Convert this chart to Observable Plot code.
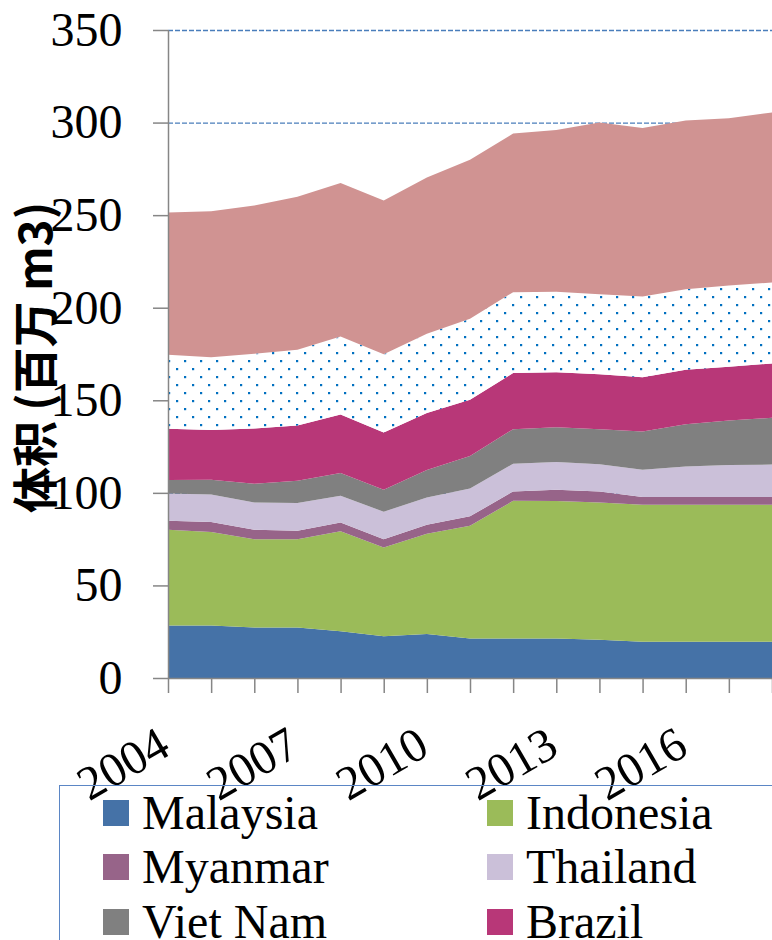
<!DOCTYPE html>
<html><head><meta charset="utf-8">
<script src="https://cdn.jsdelivr.net/npm/d3@7"></script>
<script src="https://cdn.jsdelivr.net/npm/@observablehq/plot@0.6"></script>
<style>
html,body{margin:0;padding:0;background:#fff;overflow:hidden}
#wrap{position:relative;width:772px;height:940px;overflow:hidden}
#legend{position:absolute;left:59px;top:785px;width:760px;height:220px;border:1.5px solid #5b86c5;box-sizing:border-box;display:grid;grid-template-columns:384px 384px;grid-auto-rows:54.3px;padding-left:43px;font-family:"Liberation Serif",serif;font-size:48px;color:#000}
.item{display:flex;align-items:center;white-space:nowrap;line-height:54.3px}
.sw{width:26px;height:26px;margin-right:13px;flex:none}
</style></head><body><div id="wrap"><div id="chart"></div><div id="legend"></div></div>
<script>
const years = [2004,2005,2006,2007,2008,2009,2010,2011,2012,2013,2014,2015,2016,2017,2018];
const xTickLabels = [2004,2007,2010,2013,2016];
const yTicks = [0,50,100,150,200,250,300,350];
const seriesNames = ["Malaysia","Indonesia","Myanmar","Thailand","Viet Nam","Brazil","Others","Rest"];
const seriesColors = ["#4572a7","#9bbb59","#976489","#cbc0d9","#808080","#b83778","url(#dots)","#d09392"];
const legendNames = ["Malaysia","Indonesia","Myanmar","Thailand","Viet Nam","Brazil"];
const yLabel = "体积 (百万 m3)";

const malaysia  = [28.4,28.4,27.3,27.3,25.2,22.5,23.8,21.4,21.4,21.4,20.7,19.6,19.6,19.6,19.6];
const indonesia = [51.7,50.4,47.7,47.7,54.0,48.0,54.1,60.8,74.3,74.2,74.1,74.0,74.0,74.0,74.0];
const myanmar   = [4.8,5.4,5.1,4.5,4.8,4.5,4.9,5.1,5.1,6.1,6.0,4.1,4.1,4.1,4.1];
const thailand  = [14.8,14.9,14.7,15.0,14.4,14.8,14.7,15.1,14.9,14.9,14.7,14.8,16.6,17.3,17.6];
const vietnam   = [7.2,8.0,10.1,12.0,12.3,11.9,14.8,17.5,18.7,18.9,18.9,20.7,22.8,24.1,25.2];
const brazil    = [27.7,26.8,29.9,29.9,31.6,30.9,30.8,30.4,30.3,29.7,29.7,29.3,29.4,29.0,29.4];
const others    = [40.0,39.4,40.3,40.9,42.2,42.3,42.8,43.7,43.7,43.4,43.2,43.5,43.5,43.9,43.7];
const rest      = [76.8,78.8,80.1,82.7,82.9,83.0,84.4,85.9,85.7,87.4,92.7,91.1,91.1,90.4,91.9];

const seriesValues = [malaysia,indonesia,myanmar,thailand,vietnam,brazil,others,rest];
const rows = [];
seriesNames.forEach((s,si)=>years.forEach((y,i)=>rows.push({year:y, series:s, value:seriesValues[si][i]})));

const gray = "#868686";
const chart = Plot.plot({
  width: 772, height: 940,
  marginLeft: 168, marginRight: 0, marginTop: 30, marginBottom: 262,
  style: {fontFamily: "'Liberation Serif', serif", background: "#fff"},
  x: {domain: [2004, 2018]},
  y: {domain: [0, 350]},
  color: {domain: seriesNames, range: seriesColors},
  marks: [
    Plot.ruleY(yTicks.filter(d => d > 0), {stroke: "#4a7ebb", strokeDasharray: "5,2", strokeWidth: 1.3}),
    Plot.areaY(rows, {x: "year", y: "value", fill: "series", order: seriesNames}),
    Plot.ruleX([2004], {stroke: gray, strokeWidth: 1.5}),
    Plot.ruleY([0], {stroke: gray, strokeWidth: 1.5}),
    Plot.axisY({ticks: yTicks, tickSize: 15, tickPadding: 31, fontSize: 48, stroke: gray, fill: "#000", color: "#000", label: null, strokeWidth: 1.5}),
    Plot.axisX({ticks: years, tickSize: 15, tickFormat: () => "", stroke: gray, label: null, strokeWidth: 1.5}),
    Plot.text(xTickLabels, {x: d => d, text: d => String(d), frameAnchor: "bottom", dy: 75, dx: 4, rotate: -30, textAnchor: "end", lineAnchor: "bottom", fontSize: 48, fill: "#000"}),
    Plot.text([yLabel], {text: d => d, frameAnchor: "left", dx: -131, dy: 3, rotate: -90, textAnchor: "middle", lineAnchor: "middle", fontSize: 46, fontWeight: "bold", fontFamily: "'Noto Sans CJK SC', sans-serif", fill: "#000"})
  ]
});
chart.insertAdjacentHTML("afterbegin",
  '<defs><pattern id="dots" patternUnits="userSpaceOnUse" width="16" height="16">' +
  '<rect width="16" height="16" fill="#fff"/>' +
  '<rect x="0" y="0" width="2.2" height="2.2" fill="#0070c0"/>' +
  '<rect x="8" y="8" width="2.2" height="2.2" fill="#0070c0"/></pattern></defs>');
document.getElementById("chart").appendChild(chart);

const legend = document.getElementById("legend");
legendNames.forEach(name => {
  const i = seriesNames.indexOf(name);
  const item = document.createElement("div");
  item.className = "item";
  const sw = document.createElement("span");
  sw.className = "sw";
  sw.style.background = seriesColors[i];
  const t = document.createElement("span");
  t.textContent = name;
  item.appendChild(sw); item.appendChild(t);
  legend.appendChild(item);
});
</script></body></html>
